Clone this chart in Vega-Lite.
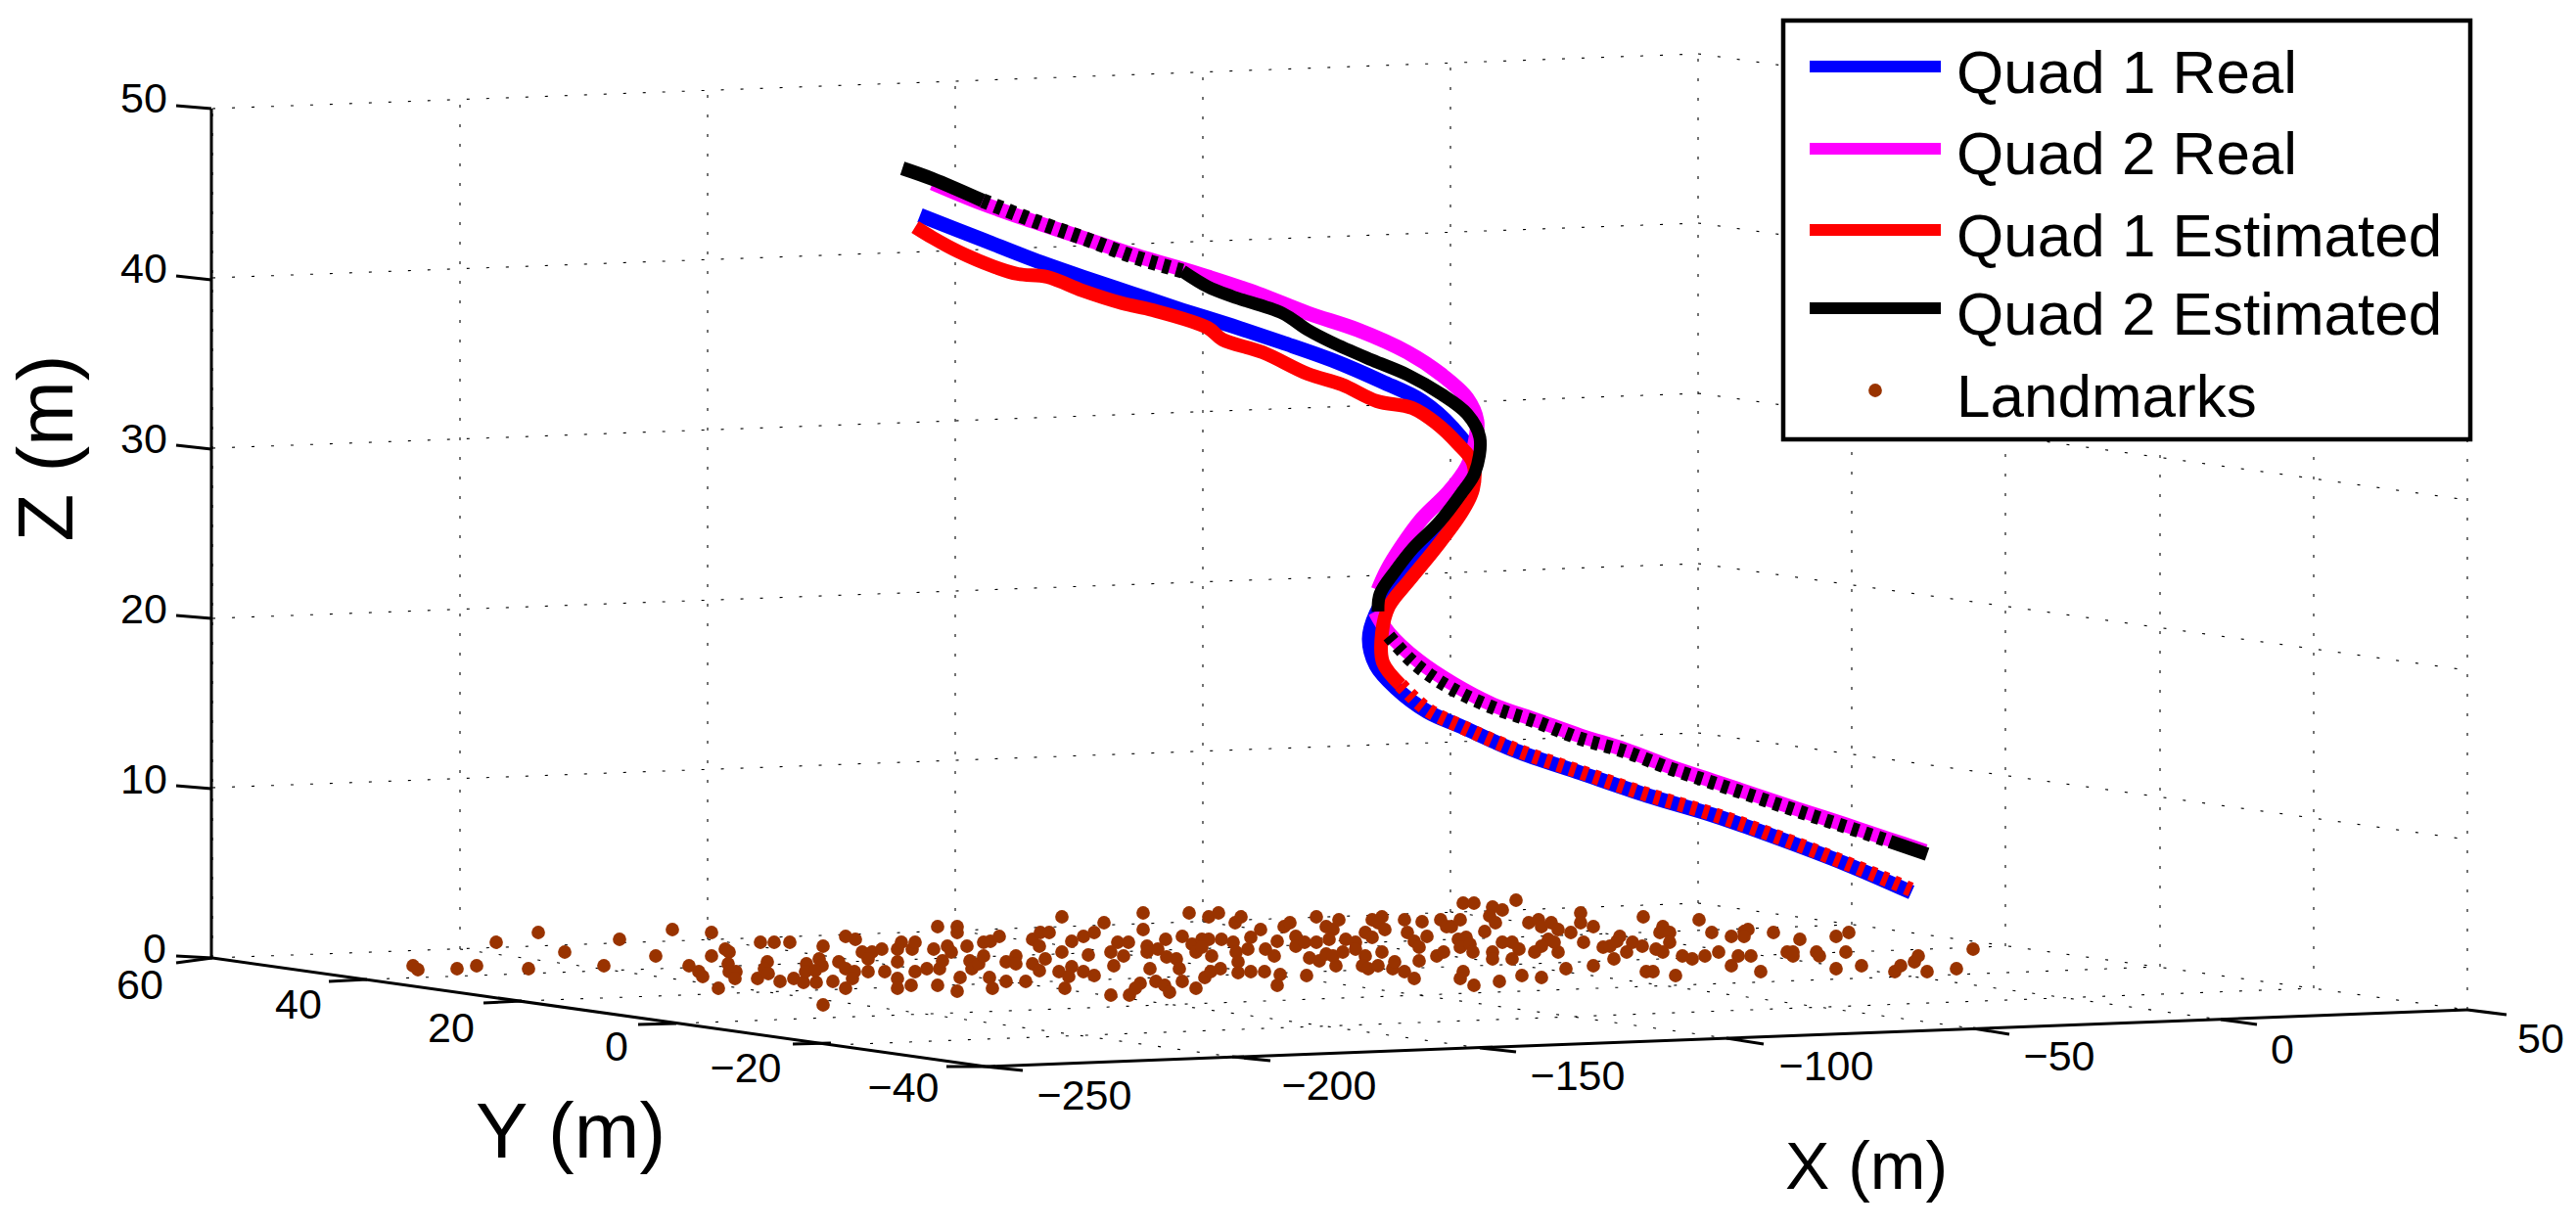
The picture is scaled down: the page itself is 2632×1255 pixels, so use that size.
{"$schema":"https://vega.github.io/schema/vega-lite/v6.json","width":2632,"height":1255,"padding":0,"autosize":{"type":"fit","contains":"padding"},"background":"white","config":{"view":{"stroke":null},"text":{"font":"Liberation Sans","color":"black"}},
"datasets":{
"grid":[
{"h":217,"v":979,"h2":217,"v2":111},{"h":470,"v":970,"h2":470,"v2":102},{"h":723,"v":960,"h2":723,"v2":92},{"h":976,"v":951,"h2":976,"v2":83},{"h":1229,"v":942,"h2":1229,"v2":74},{"h":1482,"v":932,"h2":1482,"v2":64},{"h":1735,"v":923,"h2":1735,"v2":55},
{"h":1892,"v":945,"h2":1892,"v2":77},{"h":2049,"v":967,"h2":2049,"v2":99},{"h":2207,"v":988,"h2":2207,"v2":120},{"h":2364,"v":1010,"h2":2364,"v2":142},{"h":2521,"v":1032,"h2":2521,"v2":164},
{"h":217,"v":979,"h2":1735,"v2":923},{"h":217,"v":805,"h2":1735,"v2":749},{"h":217,"v":632,"h2":1735,"v2":576},{"h":217,"v":458,"h2":1735,"v2":402},{"h":217,"v":284,"h2":1735,"v2":228},{"h":217,"v":111,"h2":1735,"v2":55},
{"h":1735,"v":923,"h2":2521,"v2":1032},{"h":1735,"v":749,"h2":2521,"v2":858},{"h":1735,"v":576,"h2":2521,"v2":685},{"h":1735,"v":402,"h2":2521,"v2":511},{"h":1735,"v":228,"h2":2521,"v2":337},{"h":1735,"v":55,"h2":2521,"v2":164},
{"h":470,"v":970,"h2":1259,"v2":1080},{"h":723,"v":960,"h2":1512,"v2":1071},{"h":976,"v":951,"h2":1764,"v2":1061},{"h":1229,"v":942,"h2":2016,"v2":1051},{"h":1482,"v":932,"h2":2269,"v2":1042},
{"h":375,"v":1001,"h2":1892,"v2":945},{"h":533,"v":1023,"h2":2049,"v2":967},{"h":691,"v":1046,"h2":2207,"v2":988},{"h":849,"v":1068,"h2":2364,"v2":1010},{"h":1007,"v":1090,"h2":2521,"v2":1032}],
"axes":[{"h":216,"v":111,"h2":216,"v2":979},{"h":217,"v":979,"h2":1007,"v2":1090},{"h":1007,"v":1090,"h2":2521,"v2":1032}],
"ticks":[{"h":180,"v":108,"h2":216,"v2":111},{"h":180,"v":282,"h2":216,"v2":286},{"h":180,"v":455,"h2":216,"v2":459},{"h":180,"v":629,"h2":216,"v2":632},{"h":180,"v":803,"h2":216,"v2":806},{"h":180,"v":977,"h2":217,"v2":979},
{"h":180,"v":984,"h2":217,"v2":979},{"h":336,"v":1003,"h2":375,"v2":1001},{"h":494,"v":1025,"h2":533,"v2":1023},{"h":652,"v":1047,"h2":691,"v2":1046},{"h":810,"v":1067,"h2":849,"v2":1066},{"h":967,"v":1090,"h2":1007,"v2":1090},
{"h":1007,"v":1090,"h2":1045,"v2":1094},{"h":1259,"v":1080,"h2":1298,"v2":1084},{"h":1512,"v":1071,"h2":1549,"v2":1075},{"h":1764,"v":1061,"h2":1802,"v2":1067},{"h":2016,"v":1051,"h2":2053,"v2":1057},{"h":2269,"v":1042,"h2":2306,"v2":1047},{"h":2521,"v":1032,"h2":2561,"v2":1037}],
"labels":[{"h":147,"v":102,"t":"50"},{"h":147,"v":276,"t":"40"},{"h":147,"v":450,"t":"30"},{"h":147,"v":624,"t":"20"},{"h":147,"v":798,"t":"10"},{"h":158,"v":971,"t":"0"},
{"h":143,"v":1008,"t":"60"},{"h":305,"v":1028,"t":"40"},{"h":461,"v":1052,"t":"20"},{"h":630,"v":1071,"t":"0"},{"h":762,"v":1093,"t":"−20"},{"h":923,"v":1113,"t":"−40"},
{"h":1108,"v":1121,"t":"−250"},{"h":1358,"v":1111,"t":"−200"},{"h":1612,"v":1101,"t":"−150"},{"h":1866,"v":1091,"t":"−100"},{"h":2104,"v":1081,"t":"−50"},{"h":2332,"v":1074,"t":"0"},{"h":2596,"v":1063,"t":"50"}],
"q1real":[{"h":940,"v":220},{"h":1004,"v":245},{"h":1055,"v":265},{"h":1106,"v":283},{"h":1157,"v":300},{"h":1208,"v":317},{"h":1259,"v":333},{"h":1310,"v":350},{"h":1361,"v":368},{"h":1412,"v":390},{"h":1453,"v":410},{"h":1484,"v":437},{"h":1502,"v":463},{"h":1499,"v":487},{"h":1489,"v":517},{"h":1471,"v":543},{"h":1444,"v":577},{"h":1422,"v":603},{"h":1406,"v":627},{"h":1399,"v":653},{"h":1406,"v":680},{"h":1426,"v":703},{"h":1458,"v":727},{"h":1494,"v":743},{"h":1548,"v":767},{"h":1615,"v":790},{"h":1683,"v":813},{"h":1750,"v":833},{"h":1818,"v":857},{"h":1886,"v":883},{"h":1953,"v":912}],
"q2real":[{"h":953,"v":187},{"h":1004,"v":208},{"h":1055,"v":226},{"h":1106,"v":243},{"h":1157,"v":260},{"h":1208,"v":275},{"h":1234,"v":283},{"h":1285,"v":300},{"h":1336,"v":320},{"h":1387,"v":337},{"h":1438,"v":360},{"h":1473,"v":383},{"h":1499,"v":407},{"h":1509,"v":430},{"h":1507,"v":453},{"h":1499,"v":477},{"h":1480,"v":503},{"h":1453,"v":530},{"h":1431,"v":560},{"h":1417,"v":583},{"h":1408,"v":603}],
"q2realb":[{"h":1405,"v":625},{"h":1419,"v":647},{"h":1449,"v":675},{"h":1485,"v":699},{"h":1525,"v":720},{"h":1570,"v":736},{"h":1615,"v":752},{"h":1660,"v":766},{"h":1705,"v":783},{"h":1750,"v":798},{"h":1795,"v":813},{"h":1840,"v":828},{"h":1886,"v":843},{"h":1931,"v":858},{"h":1967,"v":870}],
"q1esta":[{"h":935,"v":232},{"h":953,"v":243},{"h":979,"v":257},{"h":1014,"v":272},{"h":1040,"v":280},{"h":1070,"v":283},{"h":1106,"v":297},{"h":1147,"v":310},{"h":1178,"v":317},{"h":1234,"v":335},{"h":1249,"v":347},{"h":1290,"v":360},{"h":1336,"v":382},{"h":1371,"v":393},{"h":1407,"v":410},{"h":1443,"v":417},{"h":1468,"v":433},{"h":1489,"v":453},{"h":1505,"v":473},{"h":1505,"v":500},{"h":1494,"v":523},{"h":1467,"v":560},{"h":1440,"v":593},{"h":1419,"v":620},{"h":1412,"v":647},{"h":1413,"v":677},{"h":1431,"v":700}],
"q1estb":[{"h":1431,"v":700},{"h":1458,"v":725},{"h":1494,"v":743},{"h":1548,"v":766},{"h":1615,"v":789},{"h":1683,"v":812},{"h":1750,"v":832},{"h":1818,"v":856},{"h":1886,"v":882},{"h":1957,"v":911}],
"q2esta":[{"h":922,"v":172},{"h":953,"v":183},{"h":1004,"v":205}],
"q2estb":[{"h":1004,"v":205},{"h":1055,"v":225},{"h":1106,"v":243},{"h":1157,"v":262},{"h":1208,"v":277}],
"q2estc":[{"h":1208,"v":277},{"h":1234,"v":293},{"h":1259,"v":303},{"h":1310,"v":320},{"h":1336,"v":337},{"h":1361,"v":350},{"h":1402,"v":368},{"h":1438,"v":383},{"h":1473,"v":403},{"h":1499,"v":423},{"h":1512,"v":447},{"h":1507,"v":483},{"h":1494,"v":503},{"h":1471,"v":533},{"h":1444,"v":560},{"h":1426,"v":583},{"h":1410,"v":607},{"h":1408,"v":625}],
"q2estd":[{"h":1419,"v":650},{"h":1444,"v":677},{"h":1480,"v":702},{"h":1525,"v":723},{"h":1570,"v":738},{"h":1615,"v":755},{"h":1660,"v":768},{"h":1705,"v":785},{"h":1750,"v":800},{"h":1795,"v":815},{"h":1840,"v":830},{"h":1886,"v":845},{"h":1931,"v":860}],
"q2este":[{"h":1931,"v":860},{"h":1969,"v":873}],
"landmarks":[{"h":422,"v":987},{"h":427,"v":991},{"h":467,"v":990},{"h":487,"v":987},{"h":507,"v":963},{"h":550,"v":953},{"h":540,"v":990},{"h":577,"v":973},{"h":617,"v":987},{"h":633,"v":960},{"h":670,"v":977},{"h":687,"v":950},
{"h":727,"v":953},{"h":727,"v":977},{"h":704,"v":987},{"h":714,"v":993},{"h":718,"v":998},{"h":734,"v":1010},{"h":741,"v":970},{"h":745,"v":973},{"h":744,"v":985},{"h":745,"v":993},{"h":752,"v":993},{"h":751,"v":1000},{"h":774,"v":1000},{"h":777,"v":963},{"h":791,"v":963},{"h":807,"v":963},{"h":784,"v":983},{"h":781,"v":990},{"h":785,"v":995},{"h":797,"v":1003},{"h":811,"v":1000},{"h":821,"v":1004},{"h":834,"v":1004},{"h":841,"v":1027},{"h":851,"v":1003},{"h":864,"v":1010},{"h":841,"v":967},{"h":824,"v":985},{"h":823,"v":993},{"h":837,"v":980},{"h":840,"v":987},{"h":833,"v":992},{"h":857,"v":983},{"h":864,"v":957},{"h":874,"v":960},{"h":864,"v":990},{"h":873,"v":993},{"h":871,"v":1000},{"h":881,"v":973},{"h":891,"v":973},{"h":901,"v":970},{"h":887,"v":980},{"h":887,"v":993},{"h":904,"v":993},{"h":917,"v":983},{"h":917,"v":970},{"h":921,"v":963},{"h":932,"v":970},{"h":935,"v":963},{"h":917,"v":1000},{"h":917,"v":1010},{"h":931,"v":1007},{"h":935,"v":993},{"h":947,"v":990},{"h":958,"v":1007},{"h":960,"v":990},{"h":963,"v":982},{"h":954,"v":970},{"h":968,"v":967},{"h":972,"v":973},{"h":958,"v":947},{"h":978,"v":947},{"h":978,"v":953},{"h":978,"v":1013},{"h":981,"v":999},{"h":988,"v":967},{"h":991,"v":982},{"h":993,"v":990},{"h":1000,"v":985},{"h":1005,"v":977},{"h":1005,"v":963},{"h":1012,"v":962},{"h":1021,"v":957},{"h":1011,"v":999},{"h":1014,"v":1010},{"h":1028,"v":1003},{"h":1028,"v":983},{"h":1038,"v":977},{"h":1038,"v":985},{"h":1048,"v":1003},{"h":1055,"v":960},{"h":1062,"v":967},{"h":1063,"v":953},{"h":1072,"v":953},{"h":1085,"v":937},{"h":1128,"v":943},{"h":1055,"v":985},{"h":1062,"v":992},{"h":1068,"v":980},{"h":1085,"v":973},{"h":1082,"v":993},{"h":1095,"v":988},{"h":1092,"v":998},{"h":1088,"v":1010},{"h":1095,"v":962},{"h":1107,"v":957},{"h":1118,"v":953},{"h":1112,"v":976},{"h":1107,"v":993},{"h":1118,"v":997},{"h":1135,"v":973},{"h":1142,"v":963},{"h":1148,"v":977},{"h":1138,"v":987},{"h":1135,"v":1017},{"h":1154,"v":1017},{"h":1153,"v":963},
{"h":1168,"v":933},{"h":1168,"v":950},{"h":1191,"v":960},{"h":1172,"v":967},{"h":1172,"v":973},{"h":1183,"v":970},{"h":1192,"v":978},{"h":1202,"v":980},{"h":1175,"v":990},{"h":1205,"v":990},{"h":1165,"v":1005},{"h":1160,"v":1010},{"h":1181,"v":1003},{"h":1190,"v":1007},{"h":1195,"v":1014},{"h":1208,"v":1003},{"h":1222,"v":1010},{"h":1231,"v":999},{"h":1237,"v":993},{"h":1247,"v":990},{"h":1215,"v":933},{"h":1235,"v":937},{"h":1245,"v":933},{"h":1262,"v":943},{"h":1268,"v":937},{"h":1208,"v":957},{"h":1218,"v":965},{"h":1222,"v":973},{"h":1228,"v":960},{"h":1235,"v":960},{"h":1228,"v":968},{"h":1238,"v":977},{"h":1248,"v":960},{"h":1260,"v":963},{"h":1263,"v":973},{"h":1265,"v":983},{"h":1275,"v":970},{"h":1278,"v":958},{"h":1288,"v":950},{"h":1265,"v":994},{"h":1278,"v":993},{"h":1292,"v":993},{"h":1308,"v":996},{"h":1305,"v":1007},{"h":1293,"v":970},{"h":1302,"v":977},{"h":1305,"v":962},{"h":1312,"v":947},{"h":1318,"v":943},{"h":1324,"v":957},{"h":1324,"v":967},{"h":1335,"v":997},{"h":1338,"v":979},{"h":1333,"v":963},{"h":1345,"v":963},{"h":1345,"v":937},{"h":1355,"v":947},{"h":1362,"v":950},{"h":1368,"v":940},{"h":1358,"v":960},{"h":1348,"v":982},{"h":1355,"v":975},{"h":1365,"v":987},{"h":1362,"v":977},{"h":1372,"v":973},{"h":1375,"v":960},{"h":1385,"v":963},{"h":1385,"v":970},{"h":1395,"v":953},{"h":1402,"v":958},{"h":1402,"v":940},{"h":1412,"v":937},{"h":1408,"v":943},{"h":1415,"v":950},{"h":1395,"v":977},{"h":1392,"v":987},{"h":1398,"v":990},{"h":1408,"v":987},{"h":1412,"v":973},{"h":1423,"v":990},{"h":1425,"v":983},{"h":1435,"v":993},{"h":1445,"v":1000},{"h":1435,"v":940},{"h":1438,"v":953},{"h":1445,"v":962},{"h":1450,"v":968},{"h":1458,"v":957},{"h":1453,"v":942},{"h":1472,"v":940},{"h":1478,"v":947},{"h":1483,"v":947},{"h":1492,"v":940},{"h":1450,"v":982},{"h":1468,"v":977},{"h":1475,"v":973},{"h":1495,"v":923},{"h":1506,"v":923},{"h":1525,"v":927},{"h":1535,"v":930},{"h":1549,"v":920},{"h":1522,"v":936},{"h":1528,"v":943},{"h":1517,"v":952},{"h":1498,"v":958},{"h":1490,"v":960},{"h":1492,"v":968},{"h":1502,"v":965},{"h":1505,"v":973},{"h":1495,"v":993},{"h":1492,"v":1000},{"h":1506,"v":1007},{"h":1532,"v":1003},{"h":1555,"v":997},{"h":1575,"v":999},{"h":1535,"v":963},{"h":1545,"v":963},{"h":1552,"v":970},{"h":1525,"v":973},{"h":1525,"v":980},{"h":1545,"v":980},{"h":1562,"v":943},{"h":1572,"v":940},{"h":1575,"v":947},{"h":1585,"v":943},{"h":1592,"v":950},{"h":1605,"v":953},{"h":1615,"v":933},{"h":1615,"v":943},{"h":1628,"v":947},{"h":1618,"v":963},{"h":1582,"v":960},{"h":1575,"v":967},{"h":1568,"v":973},{"h":1592,"v":973},{"h":1588,"v":963},{"h":1600,"v":990},{"h":1628,"v":987},{"h":1638,"v":968},
{"h":1649,"v":980},{"h":1645,"v":967},{"h":1655,"v":957},{"h":1652,"v":962},{"h":1662,"v":973},{"h":1668,"v":963},{"h":1678,"v":967},{"h":1679,"v":937},{"h":1692,"v":970},{"h":1699,"v":947},{"h":1696,"v":953},{"h":1706,"v":953},{"h":1706,"v":963},{"h":1699,"v":973},{"h":1682,"v":993},{"h":1689,"v":993},{"h":1712,"v":997},{"h":1719,"v":977},{"h":1729,"v":980},{"h":1742,"v":977},{"h":1756,"v":973},{"h":1736,"v":940},{"h":1749,"v":953},{"h":1769,"v":957},{"h":1782,"v":952},{"h":1786,"v":950},{"h":1782,"v":957},{"h":1776,"v":977},{"h":1769,"v":987},{"h":1789,"v":977},{"h":1799,"v":993},{"h":1812,"v":953},{"h":1826,"v":973},{"h":1832,"v":973},{"h":1832,"v":977},{"h":1839,"v":960},{"h":1856,"v":973},{"h":1859,"v":977},{"h":1876,"v":957},{"h":1889,"v":953},{"h":1886,"v":973},{"h":1876,"v":990},{"h":1902,"v":987},{"h":1936,"v":993},{"h":1942,"v":987},{"h":1956,"v":983},{"h":1960,"v":977},{"h":1969,"v":993},{"h":1999,"v":990},{"h":2016,"v":970}],
"legendbox":[{"h":1822,"v":21,"h2":2524,"v2":449}],
"legendlines":[{"h":1849,"h2":1983,"v":68,"series":"Quad 1 Real"},{"h":1849,"h2":1983,"v":152,"series":"Quad 2 Real"},{"h":1849,"h2":1983,"v":235,"series":"Quad 1 Estimated"},{"h":1849,"h2":1983,"v":315,"series":"Quad 2 Estimated"}],
"legenddot":[{"h":1916,"v":399}],
"legendtext":[{"h":1999,"v":95,"t":"Quad 1 Real"},{"h":1999,"v":178,"t":"Quad 2 Real"},{"h":1999,"v":262,"t":"Quad 1 Estimated"},{"h":1999,"v":342,"t":"Quad 2 Estimated"},{"h":1999,"v":426,"t":"Landmarks"}],
"titlez":[{"h":74,"v":458,"t":"Z (m)"}],
"titley":[{"h":583,"v":1183,"t":"Y (m)"}],
"titlex":[{"h":1907,"v":1215,"t":"X (m)"}]
},
"encoding":{"x":{"field":"h","type":"quantitative","scale":{"domain":[0,2632],"nice":false,"zero":false},"axis":null},"y":{"field":"v","type":"quantitative","scale":{"domain":[1255,0],"nice":false,"zero":false},"axis":null}},
"layer":[
{"data":{"name":"grid"},"mark":{"type":"rule","color":"black","strokeWidth":1.1,"strokeDash":[3,17]},"encoding":{"x2":{"field":"h2"},"y2":{"field":"v2"}}},
{"data":{"name":"axes"},"mark":{"type":"rule","color":"black","strokeWidth":3},"encoding":{"x2":{"field":"h2"},"y2":{"field":"v2"}}},
{"data":{"name":"ticks"},"mark":{"type":"rule","color":"black","strokeWidth":3},"encoding":{"x2":{"field":"h2"},"y2":{"field":"v2"}}},
{"data":{"name":"labels"},"mark":{"type":"text","fontSize":43,"align":"center","baseline":"middle"},"encoding":{"text":{"field":"t"}}},
{"data":{"name":"q1real"},"mark":{"type":"line","color":"#0000ff","strokeWidth":15,"order":false,"interpolate":"catmull-rom"}},
{"data":{"name":"q2real"},"mark":{"type":"line","color":"#ff00ff","strokeWidth":15,"order":false,"interpolate":"catmull-rom"}},
{"data":{"name":"q2realb"},"mark":{"type":"line","color":"#ff00ff","strokeWidth":15,"order":false,"interpolate":"catmull-rom"}},
{"data":{"name":"q1esta"},"mark":{"type":"line","color":"#ff0000","strokeWidth":14,"order":false,"interpolate":"catmull-rom"}},
{"data":{"name":"q1estb"},"mark":{"type":"line","color":"#ff0000","strokeWidth":15,"strokeDash":[6,7],"order":false,"interpolate":"catmull-rom"}},
{"data":{"name":"q2esta"},"mark":{"type":"line","color":"black","strokeWidth":14,"order":false,"interpolate":"catmull-rom"}},
{"data":{"name":"q2estb"},"mark":{"type":"line","color":"black","strokeWidth":15,"strokeDash":[7,7],"order":false,"interpolate":"catmull-rom"}},
{"data":{"name":"q2estc"},"mark":{"type":"line","color":"black","strokeWidth":13,"order":false,"interpolate":"catmull-rom"}},
{"data":{"name":"q2estd"},"mark":{"type":"line","color":"black","strokeWidth":14,"strokeDash":[7,7],"order":false,"interpolate":"catmull-rom"}},
{"data":{"name":"q2este"},"mark":{"type":"line","color":"black","strokeWidth":14,"order":false}},
{"data":{"name":"landmarks"},"mark":{"type":"circle","color":"#993300","size":190,"opacity":1}},
{"data":{"name":"legendbox"},"mark":{"type":"rect","fill":"white","stroke":"black","strokeWidth":4.5},"encoding":{"x2":{"field":"h2"},"y2":{"field":"v2"}}},
{"data":{"name":"legendlines"},"mark":{"type":"rule","strokeWidth":12},"encoding":{"x2":{"field":"h2"},"color":{"field":"series","type":"nominal","legend":null,"scale":{"domain":["Quad 1 Real","Quad 2 Real","Quad 1 Estimated","Quad 2 Estimated"],"range":["#0000ff","#ff00ff","#ff0000","#000000"]}}}},
{"data":{"name":"legenddot"},"mark":{"type":"circle","color":"#993300","size":190,"opacity":1}},
{"data":{"name":"legendtext"},"mark":{"type":"text","fontSize":62,"align":"left","baseline":"alphabetic"},"encoding":{"text":{"field":"t"}}},
{"data":{"name":"titlez"},"mark":{"type":"text","fontSize":80,"angle":270,"align":"center","baseline":"alphabetic"},"encoding":{"text":{"field":"t"}}},
{"data":{"name":"titley"},"mark":{"type":"text","fontSize":80,"align":"center","baseline":"alphabetic"},"encoding":{"text":{"field":"t"}}},
{"data":{"name":"titlex"},"mark":{"type":"text","fontSize":68,"align":"center","baseline":"alphabetic"},"encoding":{"text":{"field":"t"}}}
]}
